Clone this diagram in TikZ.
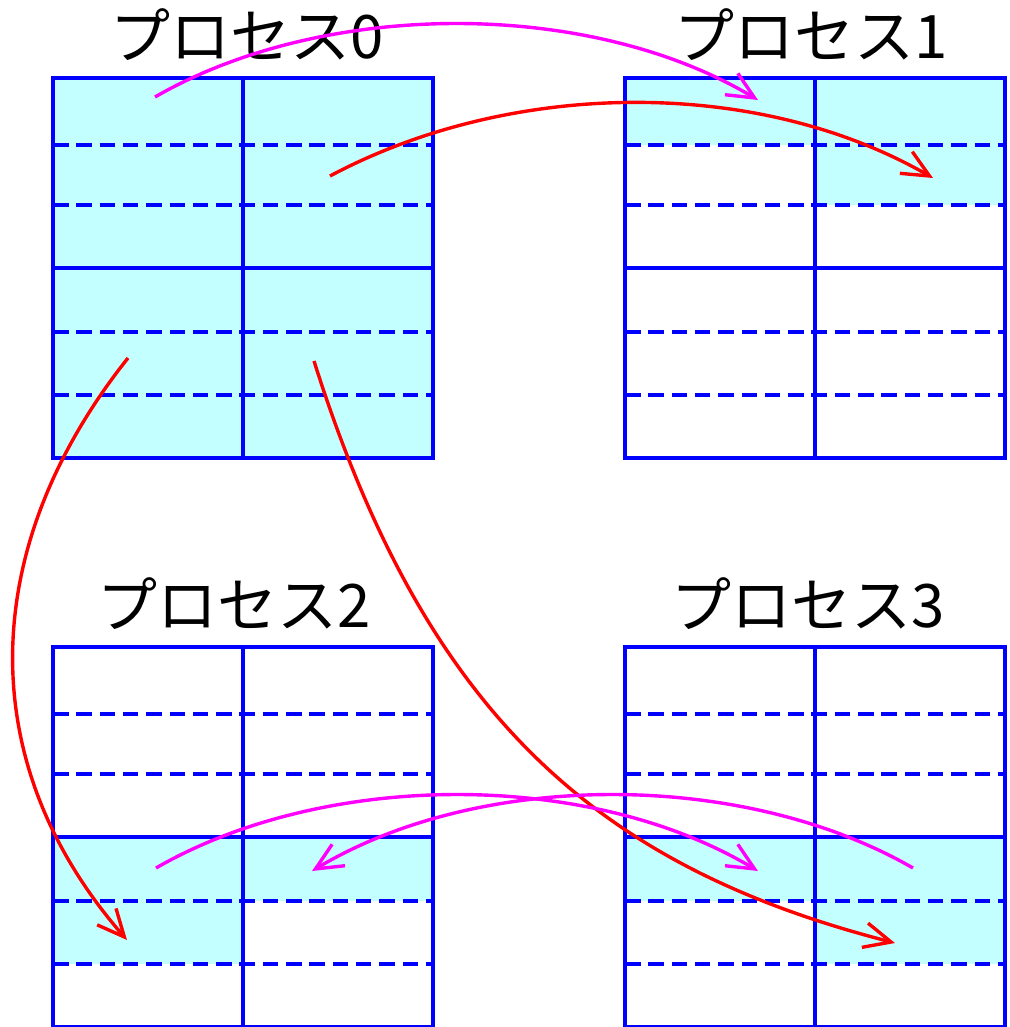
\documentclass[tikz,border=0pt]{standalone}
\usepackage{fontspec}
\newfontfamily\jpfont{Noto Sans CJK JP}
\usetikzlibrary{arrows.meta}
\definecolor{gridblue}{RGB}{0,0,255}
\definecolor{cellcyan}{RGB}{196,255,255}
\definecolor{arrmag}{RGB}{255,0,255}
\definecolor{arrred}{RGB}{255,0,0}
\begin{document}
\begin{tikzpicture}[x=1pt,y=-1pt,
  gridline/.style={draw=gridblue,line width=3.8pt},
  dashline/.style={draw=gridblue,line width=3.8pt,dash pattern=on 15.5pt off 7.8pt},
  cellfill/.style={fill=cellcyan},
  title/.style={font=\jpfont\fontsize{60}{62}\selectfont,inner sep=0pt,anchor=west},
  flow/.style={line width=3.4pt,-{Straight Barb[length=27pt,width=25pt]}},
  magflow/.style={flow,draw=arrmag},
  redflow/.style={flow,draw=arrred}]
\useasboundingbox (0,0) rectangle (1009,1027);
% titles
\node[title] (t0) at (110,35) {プロセス0};
\node[title] (t1) at (674,35) {プロセス1};
\node[title] (t2) at (97,604) {プロセス2};
\node[title] (t3) at (671,604) {プロセス3};
% fills
\begin{scope}[shift={(53,78)}]
  \fill[cellfill] (0,0) rectangle (380,380);
\end{scope}
\begin{scope}[shift={(625,78)}]
  \fill[cellfill] (0,0) rectangle (190,67);
  \fill[cellfill] (190,0) rectangle (380,127);
\end{scope}
\begin{scope}[shift={(53,647)}]
  \fill[cellfill] (0,190) rectangle (190,317);
  \fill[cellfill] (190,190) rectangle (380,254);
\end{scope}
\begin{scope}[shift={(625,647)}]
  \fill[cellfill] (0,190) rectangle (190,254);
  \fill[cellfill] (190,190) rectangle (380,317);
\end{scope}
% grids
\foreach \gx/\gy in {53/78,625/78,53/647,625/647}{
  \begin{scope}[shift={(\gx,\gy)}]
    \foreach \dy in {67,127,254,317}{
      \draw[dashline] (0,\dy) -- (380,\dy);
    }
    \draw[gridline] (0,190) -- (380,190);
    \draw[gridline] (190,0) -- (190,380);
    \draw[gridline] (0,0) rectangle (380,380);
  \end{scope}
}
% arrow end points
\coordinate (m1s) at (155,97);  \coordinate (m1e) at (758,100);
\coordinate (r1s) at (330,176); \coordinate (r1e) at (933,178);
\coordinate (r2s) at (128,358); \coordinate (r2e) at (127,940);
\coordinate (r3s) at (314,361); \coordinate (r3e) at (895,943);
\coordinate (m3s) at (156,868); \coordinate (m3e) at (758,871);
\coordinate (m4s) at (913,868); \coordinate (m4e) at (312,871);
% arrows
\draw[magflow] (m1s) .. controls +(170,-98) and +(-168,-101) .. (m1e);
\draw[redflow] (r1s) .. controls +(180,-96) and +(-177,-102) .. (r1e);
\draw[redflow] (r2s) .. controls +(-148,186) and +(-157,-180) .. (r2e);
\draw[redflow] (r3s) .. controls +(114,361) and +(-291,-75) .. (r3e);
\draw[magflow] (m3s) .. controls +(170,-98) and +(-168,-101) .. (m3e);
\draw[magflow] (m4s) .. controls +(-170,-98) and +(168,-101) .. (m4e);
\end{tikzpicture}
\end{document}
